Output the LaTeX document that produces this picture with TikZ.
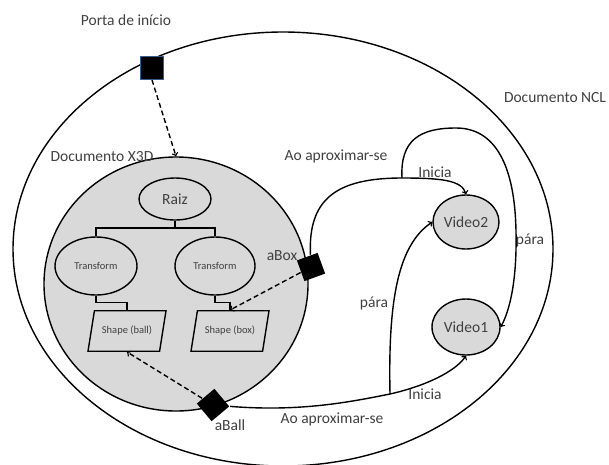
\documentclass[tikz,border=0pt]{standalone}
\usepackage{fontspec}
\setmainfont{Carlito}
\usetikzlibrary{shapes.geometric}
\definecolor{texto}{RGB}{64,64,64}
\definecolor{cinza}{RGB}{217,217,217}
\definecolor{azulborda}{RGB}{56,93,138}

\begin{document}
\begin{tikzpicture}[x=1pt, y=-1pt, line width=1.4pt,
		rotulo/.style={text=texto, font=\fontsize{15.5}{18}\selectfont, inner sep=0pt},
		miudo/.style={text=texto, font=\fontsize{10.5}{12}\selectfont, inner sep=0pt},
		elipse/.style={ellipse, draw, inner sep=0pt},
		forma/.style={trapezium, trapezium left angle=81, trapezium right angle=99, trapezium stretches body, draw, minimum width=78pt, inner xsep=0pt, inner ysep=15pt, text height=8pt, text depth=2.5pt},
		ancora/.style={rectangle, fill=black, inner sep=0pt},
		evento/.style={->},
		ligacao/.style={->, dash pattern=on 5pt off 3pt}]
		\useasboundingbox (0,0) rectangle (609,464);
		
		% Coordinates
		\coordinate (Ramo1) at (402, 178);
		\coordinate (Ramo2) at (390, 394);
		\coordinate (Galho) at (175, 228);
		
		% Documents
		\node[elipse, minimum width=540pt, minimum height=434pt] (NCL) at (283, 249) {};
		\node[elipse, fill=cinza, minimum width=264pt, minimum height=254pt] (X3D) at (176, 284) {};
		
		% X3D tree
		\node[elipse, minimum width=72pt, minimum height=42pt, rotulo] (Raiz) at (175, 199) {Raiz};
		\node[elipse, minimum width=82pt, minimum height=58pt, miudo] (TransE) at (96, 266) {Transform};
		\node[elipse, minimum width=80pt, minimum height=58pt, miudo] (TransD) at (215, 266) {Transform};
		\node[miudo, forma] (ShapeBall) at (127, 331) {Shape (ball)};
		\node[miudo, forma] (ShapeBox) at (230, 331) {Shape (box)};
		
		\draw (Raiz.south) -- (Galho);
		\draw (TransE.north) |- (Galho) -| (TransD.north);
		\draw (TransE.south) -- ++(0,7) -| (ShapeBall.north);
		\draw (TransD.south) -- ++(0,7) -| (ShapeBox.north);
		
		% Media
		\node[elipse, fill=cinza, minimum width=66pt, minimum height=54pt, rotulo] (Video2) at (466, 222) {Video2};
		\node[elipse, fill=cinza, minimum width=68pt, minimum height=56pt, rotulo] (Video1) at (466, 327) {Video1};
		
		% Anchors and ports
		\node[ancora, draw=azulborda, line width=1pt, minimum size=23pt] (Porta) at (152, 68) {};
		\node[ancora, minimum size=22pt, rotate=20] (aBox) at (311, 267) {};
		\node[ancora, minimum size=23pt, rotate=40] (aBall) at (213, 405) {};
		
		% Dashed mappings
		\draw[ligacao] (Porta.south) -- (X3D.north);
		\draw[ligacao] (aBox) -- (ShapeBox.north);
		\draw[ligacao] (aBall) -- (ShapeBall.south);
		
		% Links
		\draw[evento] (aBox) .. controls (308, 200) and (335, 178) .. (Ramo1) .. controls (440, 178) and (462, 180) .. (Video2.north);
		\draw[evento] (Ramo1) .. controls (400, 140) and (420, 128) .. (456, 128) .. controls (495, 128) and (515, 165) .. (516, 232) .. controls (517, 280) and (510, 310) .. (Video1.east);
		\draw[evento] (aBall) .. controls (300, 412) and (350, 402) .. (Ramo2) .. controls (425, 386) and (455, 372) .. (Video1.south);
		\draw[evento] (Ramo2) .. controls (388, 300) and (398, 245) .. (Video2.west);
		
		% Labels
		\node[rotulo] (lPorta) at (126, 20) {Porta de início};
		\node[rotulo] (lX3D) at (102, 157) {Documento X3D};
		\node[rotulo] (lNCL) at (555, 98) {Documento NCL};
		\node[rotulo] (lBox) at (282, 256) {aBox};
		\node[rotulo] (lBall) at (230, 425) {aBall};
		\node[rotulo] (lAproxBox) at (336, 156) {Ao aproximar-se};
		\node[rotulo] (lIniciaBox) at (435, 172) {Inicia};
		\node[rotulo] (lParaBox) at (530, 240) {pára};
		\node[rotulo] (lAproxBall) at (332, 419) {Ao aproximar-se};
		\node[rotulo] (lIniciaBall) at (425, 394) {Inicia};
		\node[rotulo] (lParaBall) at (374, 303) {pára};
	\end{tikzpicture}
\end{document}
